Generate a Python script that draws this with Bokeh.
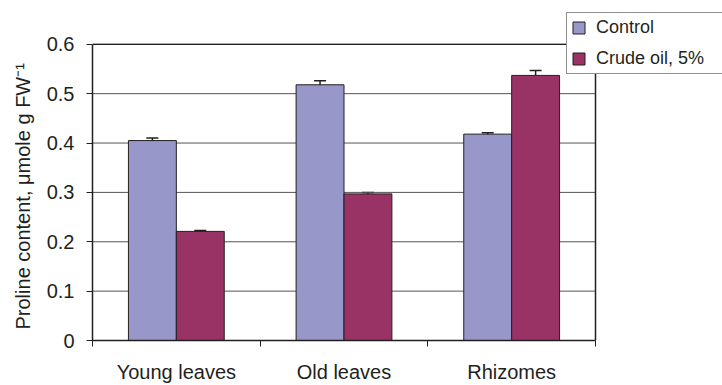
from bokeh.plotting import figure
from bokeh.models import (ColumnDataSource, Whisker, TeeHead, FixedTicker, Range1d,
                          Legend, LegendItem, CustomJSTickFormatter, Title)
from bokeh.embed import file_html
from bokeh.resources import INLINE

# ---- data ----
categories = ["Young leaves", "Old leaves", "Rhizomes"]
series_names = ["Control", "Crude oil, 5%"]
control = [0.405, 0.518, 0.418]
control_err = [0.005, 0.008, 0.003]
crude = [0.221, 0.297, 0.537]
crude_err = [0.002, 0.003, 0.010]
y_ticks = [0, 0.1, 0.2, 0.3, 0.4, 0.5, 0.6]
y_label = "Proline content, \u03bcmole g FW\u207b\u00b9"

FONT = "Liberation Sans"
DARK = "#231F20"
C_CONTROL = "#9797CA"
C_CRUDE = "#993366"
BAR_W = 1 / 3.5  # Excel gap width 150 %

# ---- layout (pixels) ----
W, H = 722, 385
PLOT_L, PLOT_R, PLOT_T, PLOT_B = 92, 595, 44, 342   # visible plot box
FRAME_T = 12                                        # frame extends up/right to host the legend

n = len(categories)
y_max = max(y_ticks)
x_end = n * (W - PLOT_L) / (PLOT_R - PLOT_L)
y_end = y_max * (PLOT_B - FRAME_T) / (PLOT_B - PLOT_T)

centers = [i + 0.5 for i in range(n)]
src = ColumnDataSource(dict(
    x_ctrl=[c - BAR_W / 2 for c in centers],
    x_crude=[c + BAR_W / 2 for c in centers],
    control=control,
    crude=crude,
    ctrl_lo=[v - e for v, e in zip(control, control_err)],
    ctrl_hi=[v + e for v, e in zip(control, control_err)],
    crude_lo=[v - e for v, e in zip(crude, crude_err)],
    crude_hi=[v + e for v, e in zip(crude, crude_err)],
))

p = figure(width=W, height=H, x_range=Range1d(0, x_end), y_range=Range1d(0, y_end),
           output_backend="svg", toolbar_location=None,
           min_border_left=PLOT_L, min_border_right=0, min_border_top=FRAME_T,
           min_border_bottom=H - PLOT_B)
p.background_fill_color = "white"
p.border_fill_color = "white"
p.outline_line_color = None
p.xgrid.visible = False
p.ygrid.visible = False

# grid lines and plot box (limited to the visible plot area)
grid_vals = y_ticks[1:]
p.segment(x0=[0] * len(grid_vals), x1=[n] * len(grid_vals), y0=grid_vals, y1=grid_vals,
          line_color="#555555", line_width=1)
p.segment(x0=[0], x1=[n], y0=[y_max], y1=[y_max], line_color=DARK, line_width=1.2)
p.segment(x0=[n], x1=[n], y0=[0], y1=[y_max], line_color=DARK, line_width=1.5)

r1 = p.vbar(x="x_ctrl", top="control", width=BAR_W, source=src,
            fill_color=C_CONTROL, line_color=DARK, line_width=1)
r2 = p.vbar(x="x_crude", top="crude", width=BAR_W, source=src,
            fill_color=C_CRUDE, line_color=DARK, line_width=1)

for base, lo, hi in (("x_ctrl", "ctrl_lo", "ctrl_hi"), ("x_crude", "crude_lo", "crude_hi")):
    w = Whisker(base=base, lower=lo, upper=hi, source=src, line_color=DARK, line_width=1.5,
                upper_head=TeeHead(size=12, line_color=DARK, line_width=1.5),
                lower_head=TeeHead(size=12, line_color=DARK, line_width=1.5))
    p.add_layout(w)

# y axis
ya = p.yaxis[0]
ya.bounds = (0, y_max)
ya.ticker = FixedTicker(ticks=y_ticks)
ya.formatter = CustomJSTickFormatter(code="return tick == 0 ? '0' : tick.toFixed(1);")
ya.major_tick_out = 6
ya.major_tick_in = 0
ya.minor_tick_out = 0
ya.minor_tick_in = 0
ya.axis_line_color = DARK
ya.axis_line_width = 1.5
ya.major_tick_line_color = DARK
ya.major_label_text_font = FONT
ya.major_label_text_font_size = "20px"
ya.major_label_text_color = DARK
ya.major_label_standoff = 12

# y axis title, centred on the visible plot box
ytitle = Title(text=y_label, align="left", offset=11, standoff=19,
               text_font=FONT, text_font_size="20px", text_font_style="normal",
               text_color=DARK)
p.add_layout(ytitle, "left")

# x axis: ticks at category boundaries, labels at centers
xa = p.xaxis[0]
xa.bounds = (0, n)
xa.ticker = FixedTicker(ticks=centers, minor_ticks=list(range(n + 1)))
xa.formatter = CustomJSTickFormatter(args=dict(names=categories),
                                     code="return names[Math.floor(tick)];")
xa.major_tick_out = 0
xa.major_tick_in = 0
xa.minor_tick_out = 6
xa.minor_tick_in = 0
xa.minor_tick_line_color = DARK
xa.axis_line_color = DARK
xa.axis_line_width = 1.5
xa.major_label_text_font = FONT
xa.major_label_text_font_size = "20px"
xa.major_label_text_color = DARK
xa.major_label_standoff = 14

legend = Legend(items=[LegendItem(label=series_names[0], renderers=[r1]),
                       LegendItem(label=series_names[1], renderers=[r2])],
                location=(566 - PLOT_L, PLOT_B - 76))
legend.border_line_color = DARK
legend.border_line_width = 1
legend.background_fill_color = "white"
legend.background_fill_alpha = 1
legend.label_text_font = FONT
legend.label_text_font_size = "18px"
legend.label_text_color = DARK
legend.glyph_width = 15
legend.glyph_height = 15
legend.label_standoff = 10
legend.padding = 4
legend.spacing = 10
legend.label_width = 125
legend.margin = 0
p.add_layout(legend)

open("out.html", "w").write(file_html(p, INLINE))
